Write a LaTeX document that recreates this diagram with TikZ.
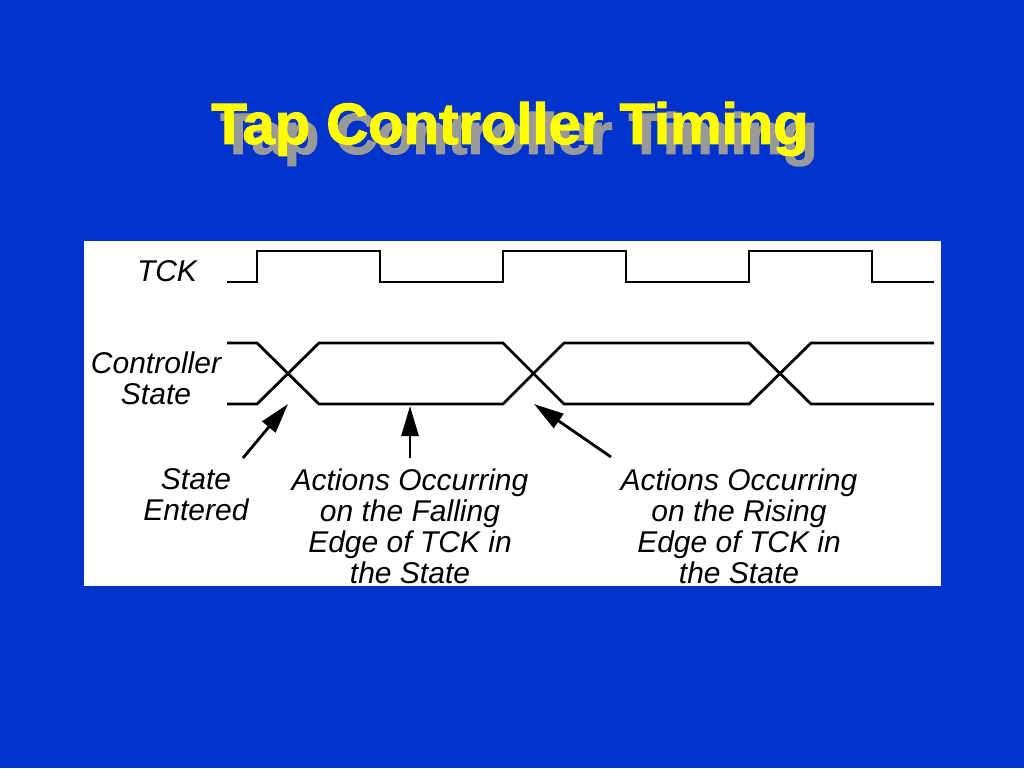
\documentclass[tikz,border=0pt]{standalone}
\usepackage{fontspec}
\setmainfont{Liberation Sans}
\newfontfamily\titlefont{Liberation Sans Bold}[FakeBold=2]
\usetikzlibrary{arrows.meta}
\definecolor{slideblue}{RGB}{0,51,204}
\definecolor{titleyellow}{RGB}{255,255,0}
\definecolor{shadowgrey}{RGB}{153,153,153}
\begin{document}
\begin{tikzpicture}[x=1pt,y=-1pt]
\tikzstyle{every node}=[text centered, inner sep=0pt]
\tikzstyle{title} = [font=\fontsize{58}{62}\titlefont];
\tikzstyle{label} = [font=\fontsize{30}{31}\selectfont\itshape, align=center];
\tikzstyle{wave} = [line width=2.8pt, line join=miter];
\tikzstyle{pointer} = [line width=2.8pt, -{Triangle[length=30pt,width=17pt]}];
% background and white panel
\fill[slideblue] (0,0) rectangle (1024,768);
\fill[white] (84,241) rectangle (941,586);
\useasboundingbox (0,0) rectangle (1024,768);
% title with drop shadow
\node[title, text=shadowgrey] (titleshadow) at (519,139) {Tap Controller Timing};
\node[title, text=titleyellow] (title) at (510,129) {Tap Controller Timing};
% signal names
\node[label] (tck) at (167,271) {TCK};
\node[label] (state) at (156,378) {Controller\\State};
% TCK clock
\draw[wave] (227,282) -- (257,282) -- (257,251) -- (380,251) -- (380,282)
  -- (503,282) -- (503,251) -- (626,251) -- (626,282)
  -- (749,282) -- (749,251) -- (872,251) -- (872,282) -- (934,282);
% controller state
\draw[wave] (227,343) -- (257,343) -- (319,404) -- (503,404) -- (564,343)
  -- (749,343) -- (811,404) -- (934,404);
\draw[wave] (227,404) -- (257,404) -- (319,343) -- (503,343) -- (564,404)
  -- (749,404) -- (811,343) -- (934,343);
% annotations
\node[label] (entered) at (196,495) {State\\Entered};
\node[label] (falling) at (410,526) {Actions Occurring\\on the Falling\\Edge of TCK in\\the State};
\node[label] (rising) at (739,526) {Actions Occurring\\on the Rising\\Edge of TCK in\\the State};
\coordinate (enteredtail) at (243,458);
\coordinate (enteredtip) at (288,404);
\coordinate (fallingtail) at (410,458);
\coordinate (fallingtip) at (410,406);
\coordinate (risingtail) at (611,457);
\coordinate (risingtip) at (534,404);
\draw[pointer] (enteredtail) -- (enteredtip);
\draw[pointer] (fallingtail) -- (fallingtip);
\draw[pointer] (risingtail) -- (risingtip);
\end{tikzpicture}
\end{document}
